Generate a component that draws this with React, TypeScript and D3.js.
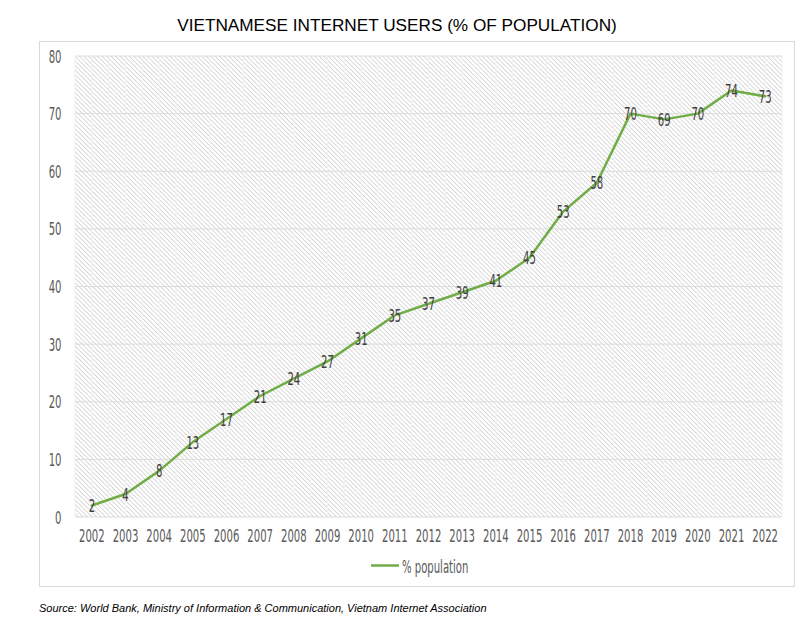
import React from "react";
import * as d3 from "d3";

const years = ["2002","2003","2004","2005","2006","2007","2008","2009","2010","2011","2012","2013","2014","2015","2016","2017","2018","2019","2020","2021","2022"];
const values = [2,4,8,13,17,21,24,27,31,35,37,39,41,45,53,58,70,69,70,74,73];
const yTicks = [0,10,20,30,40,50,60,70,80];
const title = "VIETNAMESE INTERNET USERS (% OF POPULATION)";
const seriesName = "% population";
const source = "Source: World Bank, Ministry of Information & Communication, Vietnam Internet Association";

const W = 800, H = 621;
const plot = { left: 75, right: 782, top: 56, bottom: 517 };
const COND = "'DejaVu Sans Condensed', 'DejaVu Sans', sans-serif";
const SX = 0.64;

function CText({ x, y, children, anchor = "middle", size = 17.5, fill = "#595959" }: any) {
  return (
    <text
      transform={`translate(${x},${y}) scale(${SX},1)`}
      textAnchor={anchor}
      dominantBaseline="central"
      fontFamily={COND}
      fontSize={size}
      fill={fill}
    >
      {children}
    </text>
  );
}

export default function App() {
  const x = d3.scaleBand<string>().domain(years).range([plot.left, plot.right]).padding(0);
  const y = d3.scaleLinear().domain([0, 80]).range([plot.bottom, plot.top]);
  const cx = (d: string) => (x(d) as number) + x.bandwidth() / 2;
  const line = d3.line<number>().x((_, i) => cx(years[i])).y((v) => y(v)).curve(d3.curveLinear);

  const halfLines: number[] = [];
  years.forEach((yr) => {
    halfLines.push(x(yr) as number);
    halfLines.push(cx(yr));
  });
  halfLines.push(plot.right);

  return (
    <svg width={W} height={H} style={{ position: "absolute", left: 0, top: 0, background: "#fff" }}>
      <defs>
        <pattern id="hatch" width="3.2" height="3.2" patternUnits="userSpaceOnUse" patternTransform="rotate(-45)">
          <rect width="3.2" height="3.2" fill="#ffffff" />
          <line x1="0" y1="0" x2="0" y2="3.2" stroke="#bdbdbd" strokeWidth="1.1" />
        </pattern>
      </defs>
      <rect x={0} y={0} width={W} height={H} fill="#fff" />
      <text x={397} y={31} textAnchor="middle" fontFamily="'Liberation Sans', Arial, sans-serif" fontSize={17.2} fill="#000">
        {title}
      </text>
      <rect x={39.5} y={41.5} width={755} height={545} fill="#fff" stroke="#d9d9d9" strokeWidth={1} />
      <rect x={plot.left} y={plot.top} width={plot.right - plot.left} height={plot.bottom - plot.top} fill="url(#hatch)" />
      {halfLines.map((hx, i) => (
        <line key={"v" + i} x1={hx} x2={hx} y1={plot.top} y2={plot.bottom} stroke="#f2f2f2" strokeWidth={1.2} />
      ))}
      {yTicks.map((t) => (
        <line key={"h" + t} x1={plot.left} x2={plot.right} y1={y(t)} y2={y(t)} stroke="#dcdcdc" strokeWidth={1} />
      ))}
      {yTicks.map((t) => (
        <CText key={"yl" + t} x={61.5} y={y(t)} anchor="end">{t}</CText>
      ))}
      {years.map((yr) => (
        <CText key={"xl" + yr} x={cx(yr)} y={535.5}>{yr}</CText>
      ))}
      <path d={line(values) || ""} fill="none" stroke="#70AD47" strokeWidth={2.5} strokeLinejoin="round" strokeLinecap="round" />
      {values.map((v, i) => (
        <CText key={"dl" + i} x={cx(years[i])} y={y(v)} fill="#404040">{v}</CText>
      ))}
      <line x1={371} x2={399} y1={565.5} y2={565.5} stroke="#70AD47" strokeWidth={2.5} />
      <CText x={402} y={566} anchor="start">{seriesName}</CText>
      <text x={39} y={612} fontFamily="'Liberation Sans', Arial, sans-serif" fontStyle="italic" fontSize={11} fill="#000">
        {source}
      </text>
    </svg>
  );
}
